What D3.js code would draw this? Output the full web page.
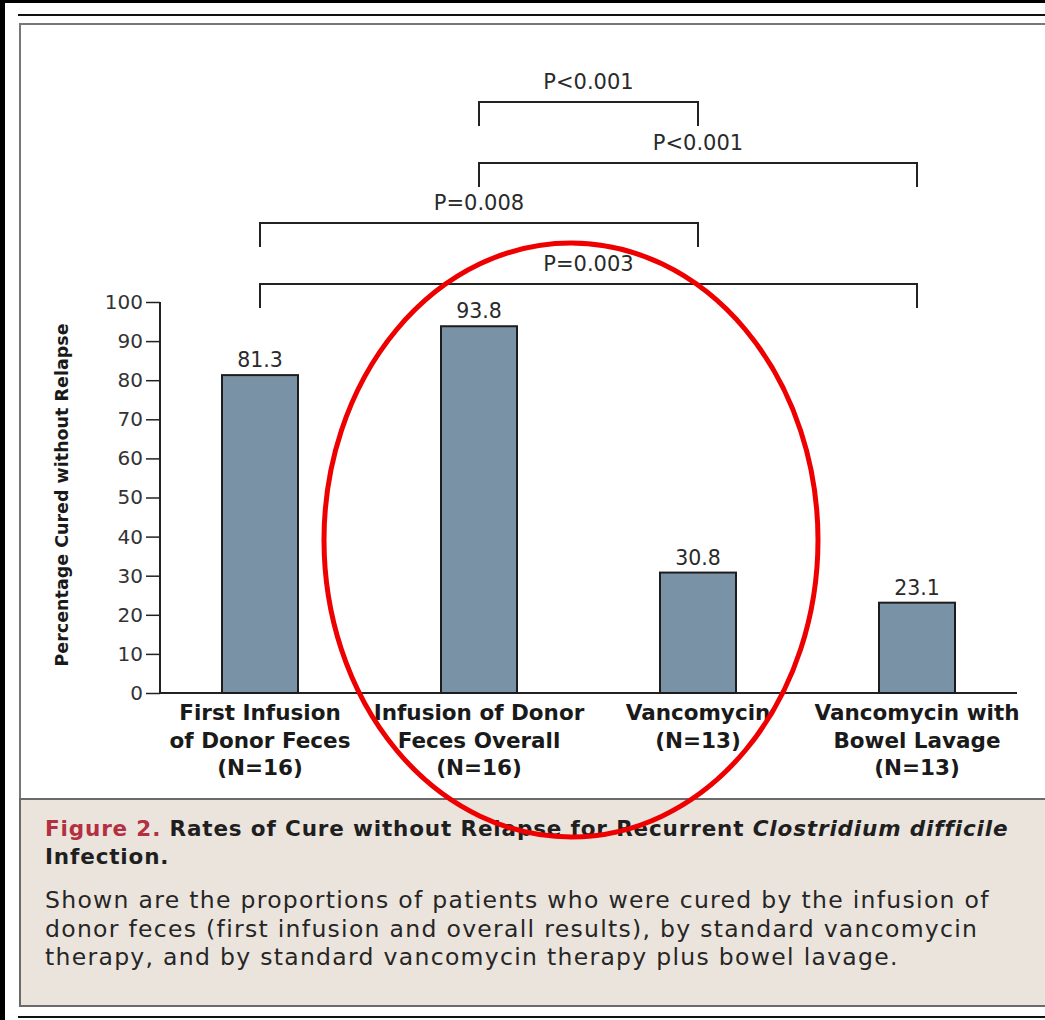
<!DOCTYPE html>
<html>
<head>
<meta charset="utf-8">
<script src="https://cdn.jsdelivr.net/npm/d3@7"></script>
<style>
  html, body { margin: 0; padding: 0; background: #fff; }
  svg { display: block; }
</style>
</head>
<body>
<svg id="chart"></svg>
<script>
// data
const groups = ["first", "overall", "vanco", "lavage"];
const groupLabels = [
  ["First Infusion", "of Donor Feces", "(N=16)"],
  ["Infusion of Donor", "Feces Overall", "(N=16)"],
  ["Vancomycin", "(N=13)"],
  ["Vancomycin with", "Bowel Lavage", "(N=13)"]
];
const cureRates = [81.3, 93.8, 30.8, 23.1];
const yTicks = [0, 10, 20, 30, 40, 50, 60, 70, 80, 90, 100];
// comparisons: [from group, to group, label]
const comparisons = [
  ["overall", "vanco", "P<0.001"],
  ["overall", "lavage", "P<0.001"],
  ["first", "vanco", "P=0.008"],
  ["first", "lavage", "P=0.003"]
];
const bracketLevels = [102, 163, 223, 284];

const W = 1045, H = 1020;
const svg = d3.select("#chart").attr("width", W).attr("height", H);
const font = "'DejaVu Sans', 'Open Sans', sans-serif";

// outer page framing
svg.append("rect").attr("width", W).attr("height", H).attr("fill", "#fff");
svg.append("rect").attr("x", 0).attr("y", 0).attr("width", W).attr("height", 3).attr("fill", "#000");
svg.append("rect").attr("x", 0).attr("y", 0).attr("width", 5).attr("height", H).attr("fill", "#000");
svg.append("line").attr("x1", 18).attr("x2", W).attr("y1", 15).attr("y2", 15)
  .attr("stroke", "#111").attr("stroke-width", 2);
svg.append("line").attr("x1", 18).attr("x2", W).attr("y1", 1017).attr("y2", 1017)
  .attr("stroke", "#111").attr("stroke-width", 2);

// figure frame
svg.append("rect").attr("x", 20).attr("y", 24).attr("width", W + 10).attr("height", 982)
  .attr("fill", "#fff").attr("stroke", "#777").attr("stroke-width", 2);

// caption box
svg.append("rect").attr("x", 20).attr("y", 799).attr("width", W + 10).attr("height", 207)
  .attr("fill", "#ebe4dd").attr("stroke", "#6a6a6a").attr("stroke-width", 2);

const x = d3.scaleBand()
  .domain(groups)
  .range([150.5, 1026.5])
  .paddingInner(0.653)
  .paddingOuter(0.3265);

const y = d3.scaleLinear()
  .domain([0, 100])
  .range([693, 302]);

const g = svg.append("g");

// y axis
const yAxis = g.append("g")
  .attr("transform", "translate(160,0)")
  .call(d3.axisLeft(y).tickValues(yTicks).tickSize(14).tickPadding(3));
yAxis.select(".domain").attr("stroke", "#222").attr("stroke-width", 2).attr("d", "M0,302V693");
yAxis.selectAll(".tick line").attr("stroke", "#222").attr("stroke-width", 1.5);
yAxis.selectAll(".tick text")
  .attr("fill", "#333").attr("font-family", font).attr("font-size", 20);

// x axis line
g.append("line")
  .attr("x1", 160).attr("x2", 1017)
  .attr("y1", y(0)).attr("y2", y(0))
  .attr("stroke", "#222").attr("stroke-width", 2);

// y axis title
g.append("text")
  .attr("transform", "translate(68,495) rotate(-90)")
  .attr("text-anchor", "middle")
  .attr("font-family", font).attr("font-weight", 700).attr("font-size", 17.5)
  .attr("fill", "#1a1a1a")
  .text("Percentage Cured without Relapse");

// bars
g.selectAll("rect.bar")
  .data(cureRates)
  .enter().append("rect")
  .attr("class", "bar")
  .attr("x", (d, i) => x(groups[i]))
  .attr("width", x.bandwidth())
  .attr("y", d => y(d))
  .attr("height", d => y(0) - y(d))
  .attr("fill", "#7a92a5")
  .attr("stroke", "#1d1d1d")
  .attr("stroke-width", 2);

// bar values
g.selectAll("text.val")
  .data(cureRates)
  .enter().append("text")
  .attr("class", "val")
  .attr("x", (d, i) => x(groups[i]) + x.bandwidth() / 2)
  .attr("y", d => y(d) - 8)
  .attr("text-anchor", "middle")
  .attr("font-family", font).attr("font-size", 20.5)
  .attr("fill", "#2a2a2a")
  .text(d => d.toFixed(1));

// category labels
groupLabels.forEach((lines, i) => {
  const t = g.append("text")
    .attr("x", x(groups[i]) + x.bandwidth() / 2)
    .attr("y", 720)
    .attr("text-anchor", "middle")
    .attr("font-family", font).attr("font-weight", 700).attr("font-size", 21.5)
    .attr("fill", "#1a1a1a");
  lines.forEach((s, j) => {
    t.append("tspan")
      .attr("x", x(groups[i]) + x.bandwidth() / 2)
      .attr("dy", j === 0 ? 0 : 27.5)
      .text(s);
  });
});

// significance brackets
comparisons.forEach(([a, b, label], k) => {
  const x1 = x(a) + x.bandwidth() / 2;
  const x2 = x(b) + x.bandwidth() / 2;
  const ly = bracketLevels[k];
  g.append("path")
    .attr("d", `M${x1},${ly + 24}V${ly}H${x2}V${ly + 24}`)
    .attr("fill", "none")
    .attr("stroke", "#222")
    .attr("stroke-width", 2);
  g.append("text")
    .attr("x", (x1 + x2) / 2)
    .attr("y", ly - 13)
    .attr("text-anchor", "middle")
    .attr("font-family", font).attr("font-size", 21)
    .attr("fill", "#2a2a2a")
    .text(label);
});

// caption
const cap = svg.append("g").attr("font-family", font).attr("fill", "#1f1f1f");
const t1 = cap.append("text").attr("x", 45).attr("y", 836)
  .attr("font-size", 21.5).attr("font-weight", 700).attr("letter-spacing", 0.85);
t1.append("tspan").attr("fill", "#b23040").text("Figure 2. ");
t1.append("tspan").text("Rates of Cure without Relapse for Recurrent ");
t1.append("tspan").attr("font-style", "italic").text("Clostridium difficile");
cap.append("text").attr("x", 45).attr("y", 864)
  .attr("font-size", 21.5).attr("font-weight", 700).attr("letter-spacing", 0.85)
  .text("Infection.");

const captionLines = [
  "Shown are the proportions of patients who were cured by the infusion of",
  "donor feces (first infusion and overall results), by standard vancomycin",
  "therapy, and by standard vancomycin therapy plus bowel lavage."
];
cap.selectAll("text.body")
  .data(captionLines)
  .enter().append("text")
  .attr("class", "body")
  .attr("x", 45)
  .attr("y", (d, i) => 908 + i * 28.5)
  .attr("font-size", 23.5)
  .attr("letter-spacing", 1.3)
  .attr("fill", "#262626")
  .text(d => d);

// red annotation ellipse
svg.append("ellipse")
  .attr("cx", 571).attr("cy", 540)
  .attr("rx", 247).attr("ry", 297)
  .attr("fill", "none")
  .attr("stroke", "#ee0000")
  .attr("stroke-width", 5);
</script>
</body>
</html>
